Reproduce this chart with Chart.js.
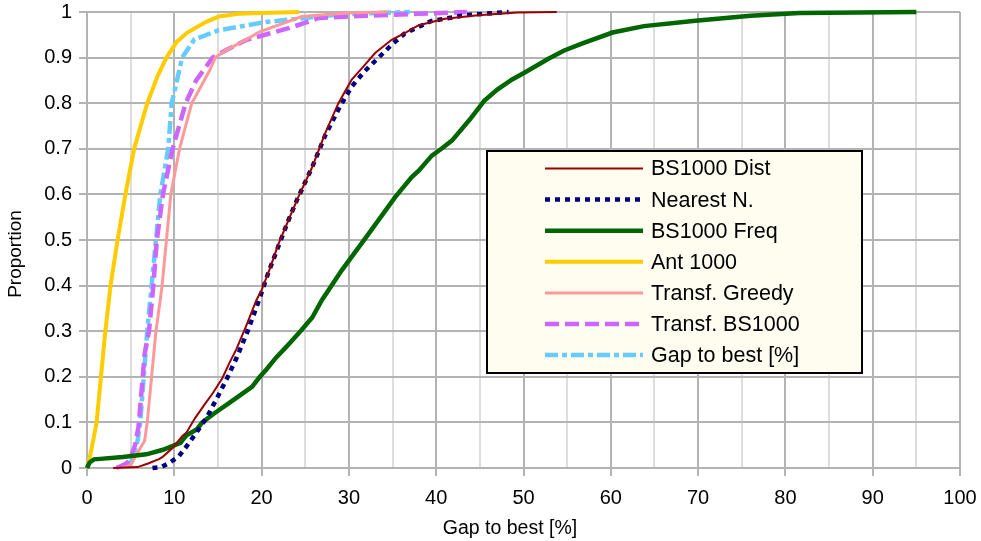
<!DOCTYPE html>
<html>
<head>
<meta charset="utf-8">
<title>Gap to best</title>
<script src="https://cdn.jsdelivr.net/npm/chart.js@4/dist/chart.umd.min.js"></script>
<style>
  html, body { margin: 0; padding: 0; background: #fff; }
  #wrap { width: 981px; height: 541px; }
</style>
</head>
<body>
<div id="wrap"><canvas id="gapChart" width="981" height="541"></canvas></div>
<script>
// [gap %, proportion] pairs
const bs1000Dist = [[3.0,0],[5.8,0.002],[7.0,0.01],[8.3,0.02],[8.7,0.025],[9.8,0.044],[10.9,0.07],[11.4,0.078],[12.4,0.11],[13.5,0.14],[14.4,0.164],[15.5,0.197],[16.3,0.23],[17.1,0.26],[18.2,0.31],[19.4,0.368],[20.0,0.39],[21.0,0.44],[21.9,0.49],[23.0,0.54],[24.2,0.594],[25.8,0.66],[27.3,0.735],[28.8,0.8],[30.3,0.851],[31.5,0.877],[33.0,0.91],[34.9,0.939],[36.5,0.955],[38.0,0.971],[41.0,0.985],[44.8,0.993],[49.3,0.999],[53.8,1.0]];
const nearestN = [[7.5,0],[8.5,0.002],[9.5,0.012],[10.5,0.025],[11.5,0.05],[12.5,0.077],[13.7,0.11],[14.8,0.15],[16.0,0.195],[17.1,0.24],[18.4,0.3],[19.7,0.368],[20.8,0.43],[22.0,0.49],[23.0,0.54],[24.1,0.59],[25.8,0.66],[27.3,0.73],[28.9,0.79],[30.3,0.836],[31.8,0.87],[33.4,0.9],[35.0,0.93],[36.4,0.953],[39.4,0.98],[43.3,0.993],[48.3,1.0]];
const bs1000Freq = [[0,0],[0.3,0.012],[0.8,0.019],[1.5,0.02],[4.1,0.024],[6.8,0.03],[8.7,0.04],[10.7,0.055],[11.4,0.072],[12.6,0.085],[13.2,0.1],[14.6,0.12],[16.3,0.143],[18.9,0.178],[19.8,0.2],[20.5,0.215],[21.7,0.243],[22.8,0.265],[24.6,0.303],[25.8,0.33],[26.9,0.368],[29.2,0.434],[32.0,0.507],[35.3,0.594],[37.2,0.638],[38.0,0.652],[39.5,0.685],[40.6,0.7],[41.8,0.718],[43.8,0.763],[45.5,0.805],[47.0,0.83],[48.7,0.852],[50.2,0.868],[52.8,0.897],[54.6,0.915],[56.6,0.93],[60.2,0.955],[63.8,0.969],[69.7,0.981],[76.0,0.992],[81.6,0.998],[95.0,1.0]];
const ant1000 = [[0,0],[0.4,0.03],[0.8,0.07],[1.1,0.1],[1.6,0.2],[2.1,0.3],[2.7,0.4],[3.5,0.5],[4.4,0.6],[5.4,0.7],[6.9,0.8],[8.1,0.86],[9.1,0.9],[10.3,0.935],[11.5,0.955],[13.6,0.978],[15.1,0.99],[17.4,0.996],[20.0,0.998],[24.3,1.0]];
const transfGreedy = [[4.0,0],[5.0,0.005],[5.5,0.024],[6.6,0.06],[6.9,0.1],[7.4,0.2],[7.9,0.3],[8.4,0.37],[8.6,0.4],[9.1,0.5],[9.6,0.6],[10.6,0.7],[12.0,0.8],[14.0,0.87],[14.7,0.9],[16.0,0.917],[18.2,0.939],[19.7,0.956],[24.6,0.99],[29.7,0.998],[34.4,1.0]];
const transfBS1000 = [[3.4,0],[4.5,0.01],[4.9,0.018],[5.5,0.05],[5.9,0.09],[6.3,0.18],[6.6,0.25],[7.1,0.3],[7.6,0.4],[8.0,0.5],[8.7,0.6],[9.8,0.7],[11.3,0.8],[12.5,0.85],[14.4,0.9],[16.0,0.917],[18.3,0.939],[23.2,0.965],[26.6,0.987],[32.0,0.992],[38.0,0.996],[43.5,1.0]];
const gapToBest = [[4.6,0],[5.2,0.02],[5.8,0.06],[6.1,0.1],[6.5,0.2],[6.9,0.3],[7.4,0.4],[7.9,0.5],[8.4,0.6],[9.3,0.7],[9.7,0.8],[10.3,0.85],[10.9,0.9],[12.3,0.94],[15.1,0.96],[20.5,0.978],[28.0,0.993],[32.0,0.997],[37.0,1.0]];

const seriesNames = ['BS1000 Dist', 'Nearest N.', 'BS1000 Freq', 'Ant 1000', 'Transf. Greedy', 'Transf. BS1000', 'Gap to best [%]'];
const seriesData = [bs1000Dist, nearestN, bs1000Freq, ant1000, transfGreedy, transfBS1000, gapToBest];
const seriesColors = ['#990000', '#000080', '#006600', '#ffcc00', '#ff9999', '#cc66ff', '#66ccff'];
const seriesWidths = [2, 4.5, 4.5, 4, 3, 4.5, 4.5];
const seriesDashes = [[], [5, 5], [], [], [], [14, 6], [13, 4, 5, 4]];

const xTicks = [0, 100, 5];   // min, max, step (labels every 10)
const yTicks = [0, 1, 0.1];
const xTitle = 'Gap to best [%]';
const yTitle = 'Proportion';

const FONT = 'Liberation Sans';

// legend box inside the plot plus the two axis titles
const boxLegend = {
  id: 'boxLegend',
  afterDatasetsDraw(chart) {
    const ctx = chart.ctx;
    const x = 487, y = 151, w = 375, h = 222;
    ctx.save();
    ctx.fillStyle = '#fffdf0';
    ctx.fillRect(x, y, w, h);
    ctx.lineWidth = 2;
    ctx.strokeStyle = '#000';
    ctx.strokeRect(x, y, w, h);
    ctx.font = '21.5px "' + FONT + '"';
    ctx.textBaseline = 'middle';
    ctx.fillStyle = '#000';
    chart.data.datasets.forEach((ds, i) => {
      const cy = 168.5 + i * 31.1;
      ctx.beginPath();
      ctx.strokeStyle = ds.borderColor;
      ctx.lineWidth = ds.borderWidth;
      ctx.setLineDash(ds.borderDash);
      ctx.moveTo(545, cy);
      ctx.lineTo(643, cy);
      ctx.stroke();
      ctx.setLineDash([]);
      ctx.fillText(ds.label, 651, cy + 1);
    });
    ctx.restore();
  },
  afterDraw(chart) {
    const ctx = chart.ctx;
    ctx.save();
    ctx.fillStyle = '#000';
    ctx.textAlign = 'center';
    ctx.textBaseline = 'middle';
    ctx.font = '19.5px "' + FONT + '"';
    ctx.fillText(xTitle, 510, 529);
    ctx.translate(16, 254);
    ctx.rotate(-Math.PI / 2);
    ctx.font = '19px "' + FONT + '"';
    ctx.fillText(yTitle, 0, 0);
    ctx.restore();
  }
};

new Chart(document.getElementById('gapChart'), {
  type: 'line',
  data: {
    datasets: seriesNames.map((name, i) => ({
      label: name,
      data: seriesData[i].map(p => ({ x: p[0], y: p[1] })),
      borderColor: seriesColors[i],
      backgroundColor: seriesColors[i],
      borderWidth: seriesWidths[i],
      borderDash: seriesDashes[i],
      pointRadius: 0,
      tension: 0,
      fill: false,
      clip: 8
    }))
  },
  options: {
    responsive: false,
    animation: false,
    layout: { padding: { top: 12, right: 21, left: 0, bottom: 0 } },
    plugins: {
      legend: { display: false },
      tooltip: { enabled: false }
    },
    scales: {
      x: {
        type: 'linear',
        min: xTicks[0],
        max: xTicks[1],
        afterFit(scale) {
          scale.height = 73;
          scale.paddingLeft = 0;
          scale.paddingRight = 0;
        },
        border: { display: false },
        grid: {
          color: c => (c.tick && c.tick.value % 10 === 0) ? '#b3b3b3' : '#dddddd',
          tickColor: c => (c.tick && c.tick.value % 10 === 0) ? '#b3b3b3' : 'rgba(0,0,0,0)',
          lineWidth: 2,
          tickLength: 8
        },
        ticks: {
          stepSize: xTicks[2],
          autoSkip: false,
          maxRotation: 0,
          padding: 10,
          color: '#000',
          font: { family: FONT, size: 20 },
          callback: v => (v % 10 === 0 ? String(v) : '')
        }
      },
      y: {
        min: yTicks[0],
        max: yTicks[1],
        afterFit(scale) {
          scale.width = 87;
          scale.paddingTop = 0;
          scale.paddingBottom = 0;
        },
        border: { display: false },
        grid: {
          color: '#b3b3b3',
          tickColor: '#b3b3b3',
          lineWidth: 2,
          tickLength: 8
        },
        ticks: {
          stepSize: yTicks[2],
          padding: 7,
          color: '#000',
          font: { family: FONT, size: 20 },
          callback: v => String(Math.round(v * 10) / 10)
        }
      }
    }
  },
  plugins: [boxLegend]
});
</script>
</body>
</html>
